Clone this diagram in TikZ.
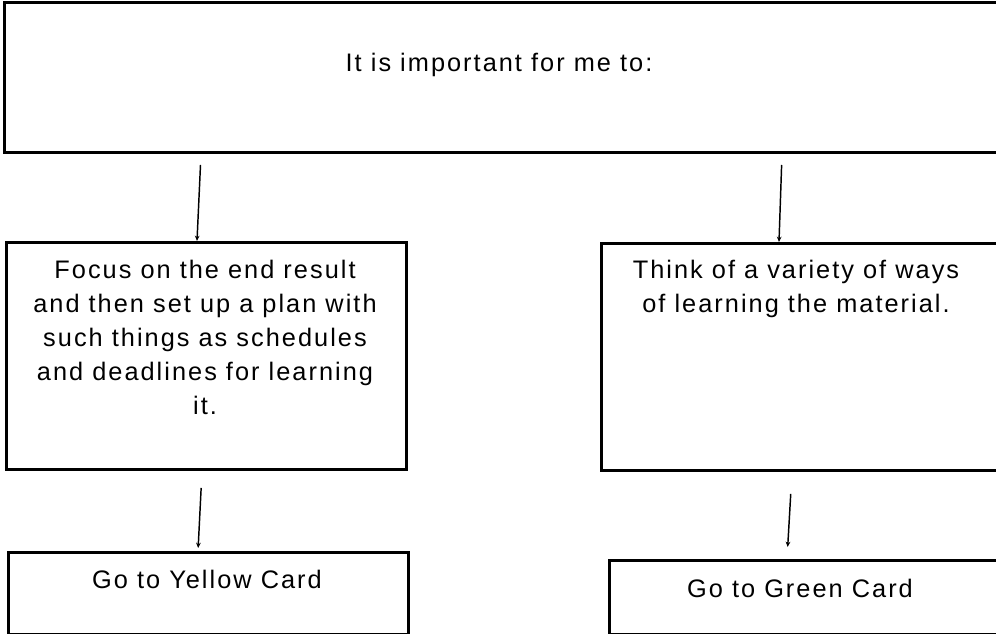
\documentclass[tikz,border=0pt]{standalone}
\usepackage{fontspec}
\setmainfont{Liberation Sans}[LetterSpace=8]
\usetikzlibrary{arrows.meta}
\begin{document}
\begin{tikzpicture}[x=0.75pt,y=-0.75pt,
  box/.style={draw=black, line width=2.25pt, rectangle, anchor=north west, inner sep=0pt},
  txt/.style={anchor=north, inner sep=0pt, align=center, font=\fontsize{19pt}{25.5pt}\selectfont},
  arr/.style={draw=black, line width=1.1pt, -{Stealth[length=4pt,width=3.5pt]}}]
\clip (0,0) rectangle (996,634);
\fill[white] (0,0) rectangle (996,634);
% boxes
\node[box, minimum width=751.5pt, minimum height=112.5pt] (top) at (3,1) {};
\node[box, minimum width=300pt, minimum height=170.25pt] (lm) at (5,241) {};
\node[box, minimum width=307.5pt, minimum height=170.25pt] (rm) at (600,242) {};
\node[box, minimum width=300pt, minimum height=61.5pt] (yl) at (7,551) {};
\node[box, minimum width=300pt, minimum height=55.5pt] (gr) at (608,559) {};
% texts
\node[txt] (ttop) at (499,53) {It is important for me to:};
\node[txt] (tlm) at (205,260) {Focus on the end result\\and then set up a plan with\\such things as schedules\\and deadlines for learning\\it.};
\node[txt] (trm) at (796,260) {Think of a variety of ways\\of learning the material.};
\node[txt] (tyl) at (207,570) {Go to Yellow Card};
\node[txt] (tgr) at (800,579) {Go to Green Card};
% connectors
\draw[arr, shorten <=8.25pt] (top.south -| 201,0) -- (lm.north -| 197,0);
\draw[arr, shorten <=8.25pt] (top.south -| 782,0) -- (rm.north -| 779,0);
\draw[arr, shorten <=12.75pt, shorten >=2.25pt] (lm.south -| 202,0) -- (yl.north -| 198,0);
\draw[arr, shorten <=16.5pt, shorten >=9pt] (rm.south -| 792,0) -- (gr.north -| 787,0);
\end{tikzpicture}
\end{document}
